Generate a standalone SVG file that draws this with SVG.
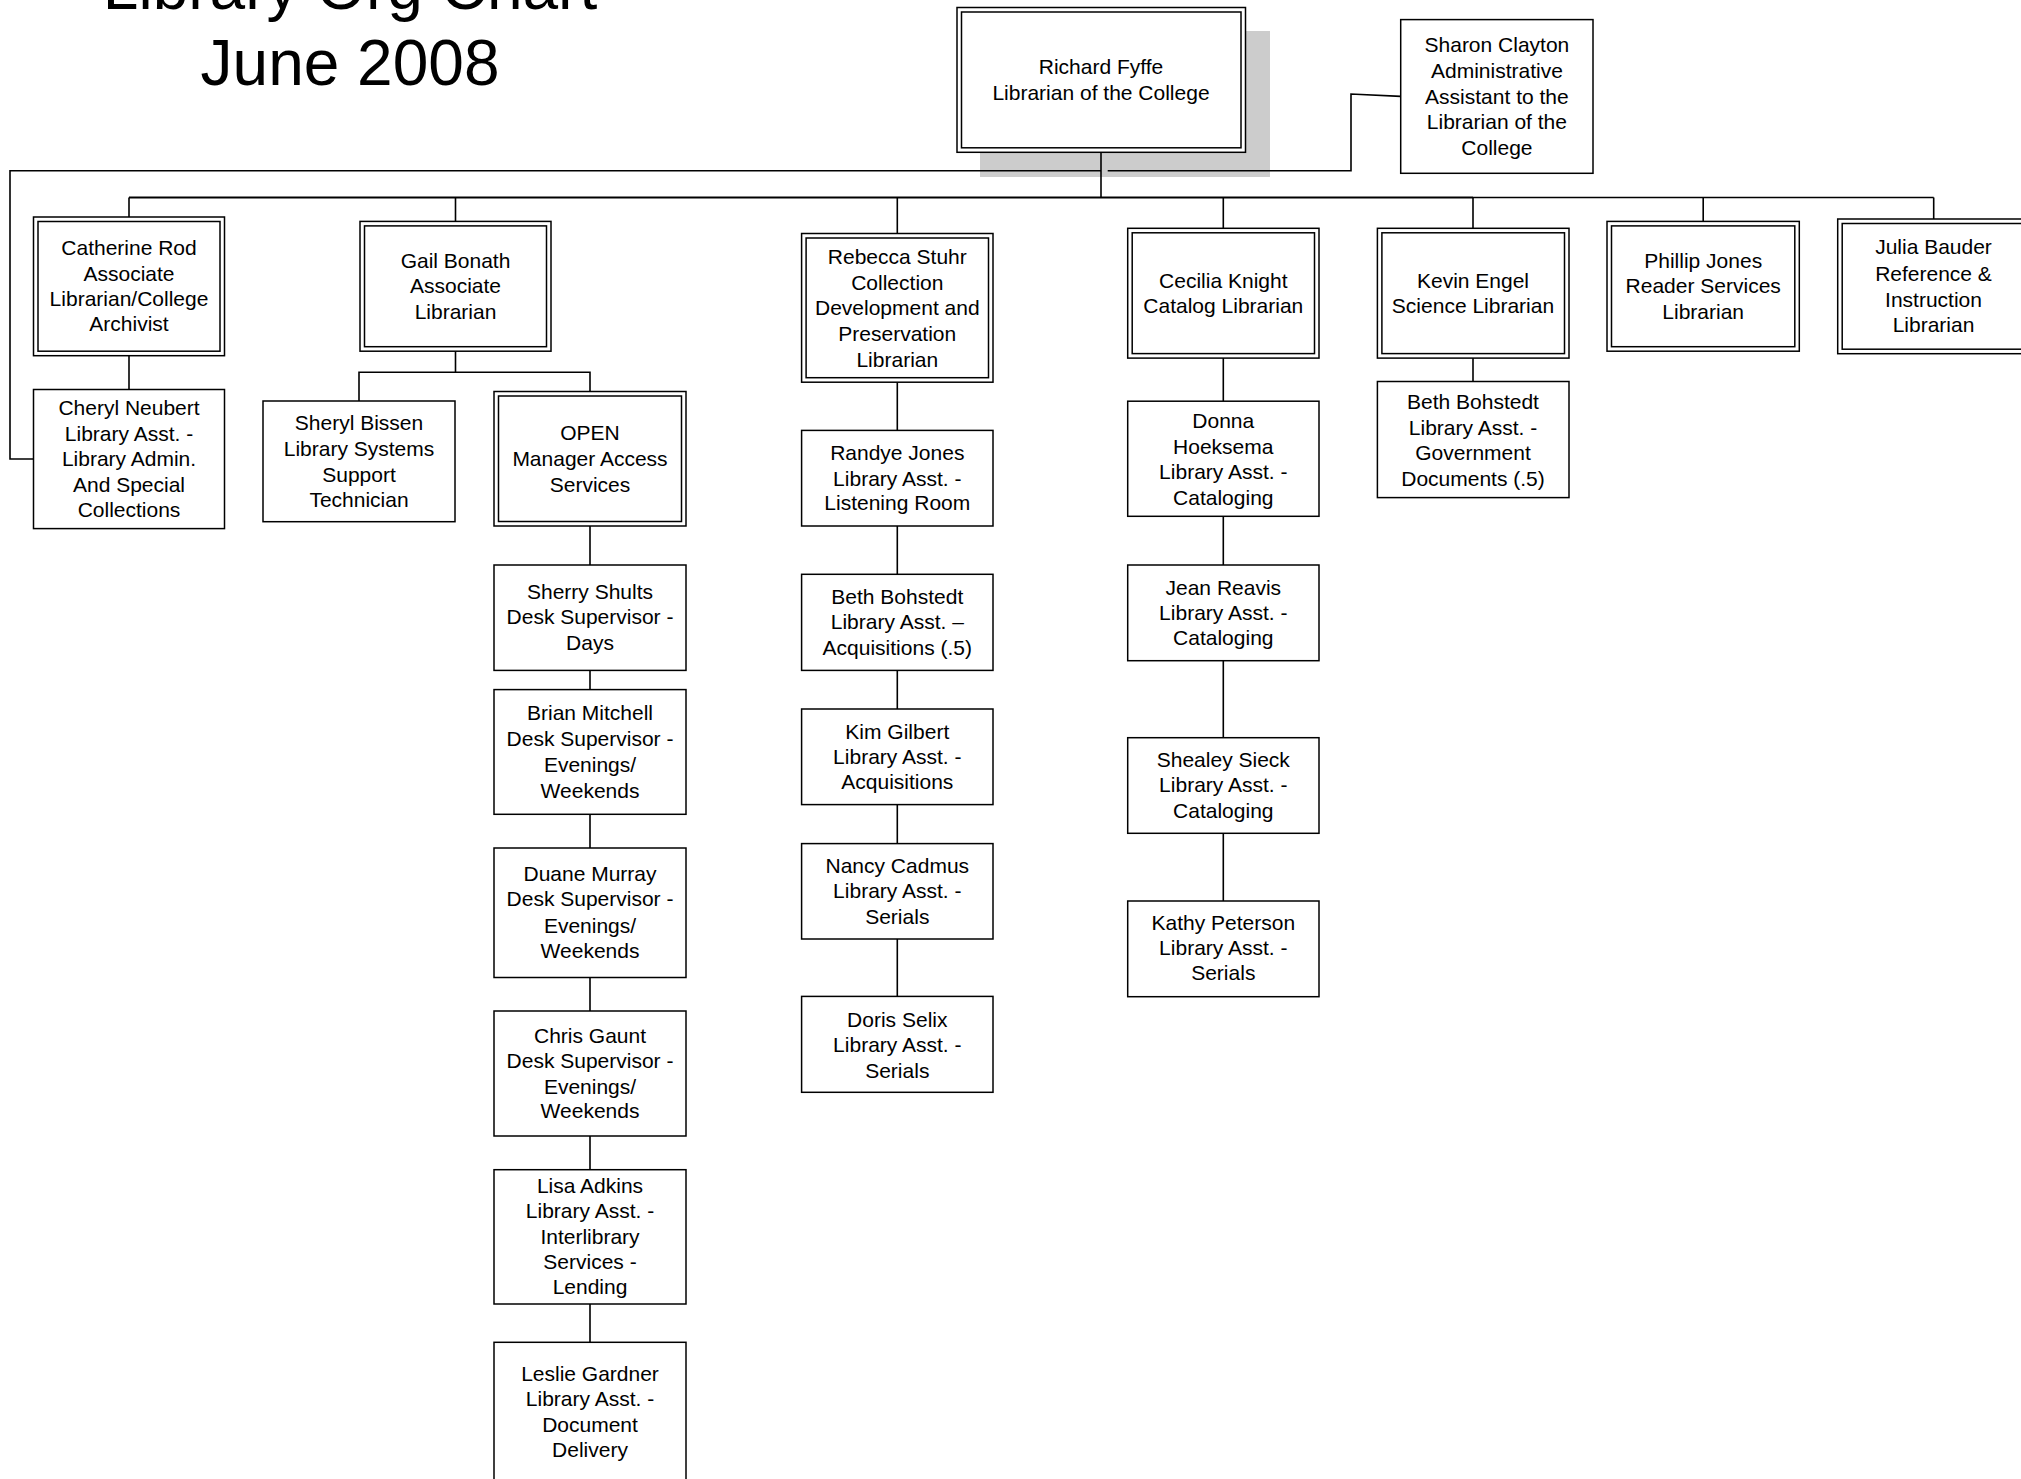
<svg xmlns="http://www.w3.org/2000/svg" width="2021" height="1479" viewBox="0 0 2021 1479">
<style>
.bg{fill:#fff}
.box{fill:#fff;stroke:#000;stroke-width:1.5}
.in{fill:none;stroke:#000;stroke-width:1.5}
.shadow{fill:#cccccc}
.ln{fill:none;stroke:#000;stroke-width:1.6}
.bus{fill:none;stroke:#000;stroke-width:2.2}
text{font-family:"Liberation Sans",Arial,sans-serif;fill:#000}
.t{font-size:21px;text-anchor:middle}
.title{font-size:64px;text-anchor:middle}
</style>
<rect class="bg" x="0" y="0" width="2021" height="1479"/>
<g id="title">
<text class="title" x="350" y="9">Library Org Chart</text>
<text class="title" x="350" y="85">June 2008</text>
</g>
<g id="richard-fyffe">
<rect class="shadow" x="980" y="31" width="290" height="146"/>
<rect class="box" x="957" y="7.5" width="288.5" height="144.8"/>
<rect class="in" x="961.5" y="12" width="279.5" height="135.8"/>
<text class="t"><tspan x="1101" y="74">Richard Fyffe</tspan><tspan x="1101" y="99.6">Librarian of the College</tspan></text>
</g>
<g id="connectors">
<path class="ln" d="M1101,152.3 V197.5"/>
<path class="bus" d="M129,197.5 H1473"/>
<path class="ln" d="M1473,197.5 H1933.7"/>
<path class="ln" d="M129,197.5 V217 M455.5,197.5 V221.4 M897.3,197.5 V233.5 M1223.3,197.5 V228.3 M1473,197.5 V228.3 M1703.2,197.5 V221.4 M1933.7,197.5 V219"/>
<path class="ln" d="M129,355.7 V389.5"/>
<path class="ln" d="M455.5,351.2 V372.2 M359,401 V372.2 H590 V391.5"/>
<path class="ln" d="M590,526 V565 M590,670.4 V689.6 M590,814.3 V848 M590,977.5 V1011 M590,1136 V1169.7 M590,1304 V1342.3"/>
<path class="ln" d="M897.3,382.2 V430.4 M897.3,526 V574.3 M897.3,670.4 V709 M897.3,804.6 V843.6 M897.3,939 V996.4"/>
<path class="ln" d="M1223.3,358.1 V401.2 M1223.3,516.3 V565 M1223.3,660.7 V737.7 M1223.3,833.3 V901"/>
<path class="ln" d="M1473,358.1 V381.5"/>
<path class="ln" d="M33.5,459 H10 V170.7 H1101"/>
<path class="ln" d="M1107.7,170.7 H1351 V94 L1400.7,96.4"/>
</g>
<g id="sharon-clayton">
<rect class="box" x="1400.7" y="19.6" width="192.3" height="153.7"/>
<text class="t"><tspan x="1496.9" y="52.3">Sharon Clayton</tspan><tspan x="1496.9" y="78">Administrative</tspan><tspan x="1496.9" y="103.6">Assistant to the</tspan><tspan x="1496.9" y="129">Librarian of the</tspan><tspan x="1496.9" y="154.6">College</tspan></text>
</g>
<g id="catherine-rod">
<rect class="box" x="33.5" y="217" width="191" height="138.7"/>
<rect class="in" x="38" y="221.5" width="182" height="129.7"/>
<text class="t"><tspan x="129" y="254.8">Catherine Rod</tspan><tspan x="129" y="280.6">Associate</tspan><tspan x="129" y="306.4">Librarian/College</tspan><tspan x="129" y="331.2">Archivist</tspan></text>
</g>
<g id="cheryl-neubert">
<rect class="box" x="33.5" y="389.5" width="191" height="139.1"/>
<text class="t"><tspan x="129" y="415">Cheryl Neubert</tspan><tspan x="129" y="440.5">Library Asst. -</tspan><tspan x="129" y="466">Library Admin.</tspan><tspan x="129" y="491.5">And Special</tspan><tspan x="129" y="517">Collections</tspan></text>
</g>
<g id="gail-bonath">
<rect class="box" x="360" y="221.4" width="191" height="129.8"/>
<rect class="in" x="364.5" y="225.9" width="182" height="120.8"/>
<text class="t"><tspan x="455.5" y="267.6">Gail Bonath</tspan><tspan x="455.5" y="293">Associate</tspan><tspan x="455.5" y="318.6">Librarian</tspan></text>
</g>
<g id="sheryl-bissen">
<rect class="box" x="263" y="401" width="192" height="120.7"/>
<text class="t"><tspan x="359" y="430.4">Sheryl Bissen</tspan><tspan x="359" y="456">Library Systems</tspan><tspan x="359" y="481.5">Support</tspan><tspan x="359" y="507">Technician</tspan></text>
</g>
<g id="open-manager">
<rect class="box" x="494" y="391.5" width="192" height="134.5"/>
<rect class="in" x="498.5" y="396" width="183" height="125.5"/>
<text class="t"><tspan x="590" y="440.4">OPEN</tspan><tspan x="590" y="466">Manager Access</tspan><tspan x="590" y="491.5">Services</tspan></text>
</g>
<g id="sherry-shults">
<rect class="box" x="494" y="565" width="192" height="105.4"/>
<text class="t"><tspan x="590" y="598.6">Sherry Shults</tspan><tspan x="590" y="624.3">Desk Supervisor -</tspan><tspan x="590" y="649.6">Days</tspan></text>
</g>
<g id="brian-mitchell">
<rect class="box" x="494" y="689.6" width="192" height="124.7"/>
<text class="t"><tspan x="590" y="720.4">Brian Mitchell</tspan><tspan x="590" y="746.1">Desk Supervisor -</tspan><tspan x="590" y="771.8">Evenings/</tspan><tspan x="590" y="797.5">Weekends</tspan></text>
</g>
<g id="duane-murray">
<rect class="box" x="494" y="848" width="192" height="129.5"/>
<text class="t"><tspan x="590" y="881.4">Duane Murray</tspan><tspan x="590" y="906.4">Desk Supervisor -</tspan><tspan x="590" y="932.5">Evenings/</tspan><tspan x="590" y="958.2">Weekends</tspan></text>
</g>
<g id="chris-gaunt">
<rect class="box" x="494" y="1011" width="192" height="125"/>
<text class="t"><tspan x="590" y="1042.5">Chris Gaunt</tspan><tspan x="590" y="1067.5">Desk Supervisor -</tspan><tspan x="590" y="1093.5">Evenings/</tspan><tspan x="590" y="1118.2">Weekends</tspan></text>
</g>
<g id="lisa-adkins">
<rect class="box" x="494" y="1169.7" width="192" height="134.3"/>
<text class="t"><tspan x="590" y="1192.5">Lisa Adkins</tspan><tspan x="590" y="1218.2">Library Asst. -</tspan><tspan x="590" y="1243.5">Interlibrary</tspan><tspan x="590" y="1269.2">Services -</tspan><tspan x="590" y="1294.2">Lending</tspan></text>
</g>
<g id="leslie-gardner">
<rect class="box" x="494" y="1342.3" width="192" height="150"/>
<text class="t"><tspan x="590" y="1380.5">Leslie Gardner</tspan><tspan x="590" y="1406">Library Asst. -</tspan><tspan x="590" y="1431.5">Document</tspan><tspan x="590" y="1457">Delivery</tspan></text>
</g>
<g id="rebecca-stuhr">
<rect class="box" x="801.6" y="233.5" width="191.4" height="148.7"/>
<rect class="in" x="806.1" y="238" width="182.4" height="139.7"/>
<text class="t"><tspan x="897.3" y="264.1">Rebecca Stuhr</tspan><tspan x="897.3" y="289.7">Collection</tspan><tspan x="897.3" y="315.1">Development and</tspan><tspan x="897.3" y="340.9">Preservation</tspan><tspan x="897.3" y="366.7">Librarian</tspan></text>
</g>
<g id="randye-jones">
<rect class="box" x="801.6" y="430.4" width="191.4" height="95.6"/>
<text class="t"><tspan x="897.3" y="459.7">Randye Jones</tspan><tspan x="897.3" y="485.5">Library Asst. -</tspan><tspan x="897.3" y="510.3">Listening Room</tspan></text>
</g>
<g id="beth-bohstedt-acq">
<rect class="box" x="801.6" y="574.3" width="191.4" height="96.1"/>
<text class="t"><tspan x="897.3" y="603.9">Beth Bohstedt</tspan><tspan x="897.3" y="629.2">Library Asst. –</tspan><tspan x="897.3" y="654.5">Acquisitions (.5)</tspan></text>
</g>
<g id="kim-gilbert">
<rect class="box" x="801.6" y="709" width="191.4" height="95.6"/>
<text class="t"><tspan x="897.3" y="738.6">Kim Gilbert</tspan><tspan x="897.3" y="764">Library Asst. -</tspan><tspan x="897.3" y="789">Acquisitions</tspan></text>
</g>
<g id="nancy-cadmus">
<rect class="box" x="801.6" y="843.6" width="191.4" height="95.4"/>
<text class="t"><tspan x="897.3" y="872.9">Nancy Cadmus</tspan><tspan x="897.3" y="898.3">Library Asst. -</tspan><tspan x="897.3" y="923.6">Serials</tspan></text>
</g>
<g id="doris-selix">
<rect class="box" x="801.6" y="996.4" width="191.4" height="95.9"/>
<text class="t"><tspan x="897.3" y="1026.5">Doris Selix</tspan><tspan x="897.3" y="1052">Library Asst. -</tspan><tspan x="897.3" y="1077.5">Serials</tspan></text>
</g>
<g id="cecilia-knight">
<rect class="box" x="1127.7" y="228.3" width="191.3" height="129.8"/>
<rect class="in" x="1132.2" y="232.8" width="182.3" height="120.8"/>
<text class="t"><tspan x="1223.3" y="287.5">Cecilia Knight</tspan><tspan x="1223.3" y="313.4">Catalog Librarian</tspan></text>
</g>
<g id="donna-hoeksema">
<rect class="box" x="1127.7" y="401.2" width="191.3" height="115.1"/>
<text class="t"><tspan x="1223.3" y="427.7">Donna</tspan><tspan x="1223.3" y="453.5">Hoeksema</tspan><tspan x="1223.3" y="478.7">Library Asst. -</tspan><tspan x="1223.3" y="504.5">Cataloging</tspan></text>
</g>
<g id="jean-reavis">
<rect class="box" x="1127.7" y="565" width="191.3" height="95.7"/>
<text class="t"><tspan x="1223.3" y="594.8">Jean Reavis</tspan><tspan x="1223.3" y="620.2">Library Asst. -</tspan><tspan x="1223.3" y="645.2">Cataloging</tspan></text>
</g>
<g id="shealey-sieck">
<rect class="box" x="1127.7" y="737.7" width="191.3" height="95.6"/>
<text class="t"><tspan x="1223.3" y="766.8">Shealey Sieck</tspan><tspan x="1223.3" y="792.3">Library Asst. -</tspan><tspan x="1223.3" y="817.8">Cataloging</tspan></text>
</g>
<g id="kathy-peterson">
<rect class="box" x="1127.7" y="901" width="191.3" height="95.7"/>
<text class="t"><tspan x="1223.3" y="930.2">Kathy Peterson</tspan><tspan x="1223.3" y="955.2">Library Asst. -</tspan><tspan x="1223.3" y="980.2">Serials</tspan></text>
</g>
<g id="kevin-engel">
<rect class="box" x="1377.4" y="228.3" width="191.6" height="129.8"/>
<rect class="in" x="1381.9" y="232.8" width="182.6" height="120.8"/>
<text class="t"><tspan x="1473" y="287.5">Kevin Engel</tspan><tspan x="1473" y="313.4">Science Librarian</tspan></text>
</g>
<g id="beth-bohstedt-gov">
<rect class="box" x="1377.4" y="381.5" width="191.6" height="116.1"/>
<text class="t"><tspan x="1473" y="408.7">Beth Bohstedt</tspan><tspan x="1473" y="434.6">Library Asst. -</tspan><tspan x="1473" y="459.7">Government</tspan><tspan x="1473" y="485.5">Documents (.5)</tspan></text>
</g>
<g id="phillip-jones">
<rect class="box" x="1607" y="221.4" width="192.3" height="129.8"/>
<rect class="in" x="1611.5" y="225.9" width="183.3" height="120.8"/>
<text class="t"><tspan x="1703.2" y="267.6">Phillip Jones</tspan><tspan x="1703.2" y="293.4">Reader Services</tspan><tspan x="1703.2" y="318.5">Librarian</tspan></text>
</g>
<g id="julia-bauder">
<rect class="box" x="1837.7" y="219" width="191.6" height="134.7"/>
<rect class="in" x="1842.2" y="223.5" width="182.6" height="125.7"/>
<text class="t"><tspan x="1933.5" y="254.2">Julia Bauder</tspan><tspan x="1933.5" y="280.8">Reference &amp;</tspan><tspan x="1933.5" y="306.5">Instruction</tspan><tspan x="1933.5" y="331.5">Librarian</tspan></text>
</g>
</svg>
